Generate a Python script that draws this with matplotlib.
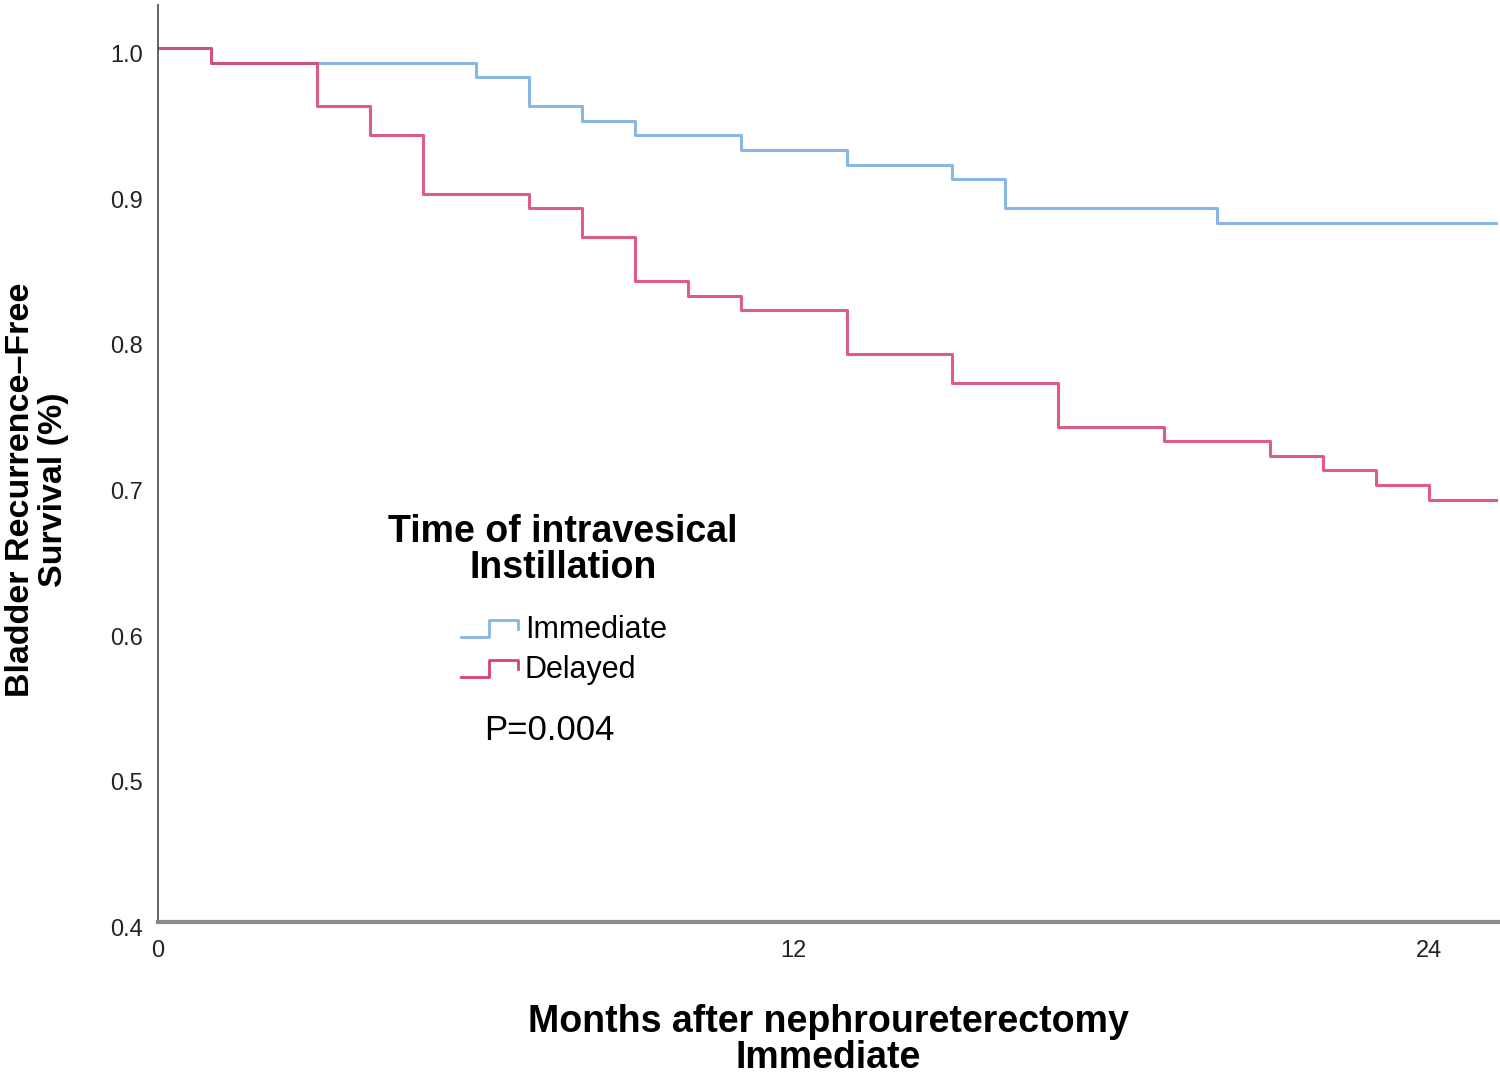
import matplotlib
matplotlib.use("Agg")
import matplotlib.pyplot as plt
import matplotlib.transforms as mtrans
from matplotlib.legend_handler import HandlerBase
from matplotlib.lines import Line2D

plt.rcParams['font.family'] = ['Liberation Sans', 'DejaVu Sans']

# Kaplan-Meier step data (months, survival)
imm_t = [0, 1, 6, 7, 8, 9, 11, 13, 15, 16, 20, 25.3]
imm_s = [1.00, 0.99, 0.98, 0.96, 0.95, 0.94, 0.93, 0.92, 0.91, 0.89, 0.88, 0.88]
del_t = [0, 1, 3, 4, 5, 7, 8, 9, 10, 11, 13, 15, 17, 19, 21, 22, 23, 24, 25.3]
del_s = [1.00, 0.99, 0.96, 0.94, 0.90, 0.89, 0.87, 0.84, 0.83, 0.82, 0.79,
         0.77, 0.74, 0.73, 0.72, 0.71, 0.70, 0.69, 0.69]
xticks = [0, 12, 24]
yticks = [0.4, 0.5, 0.6, 0.7, 0.8, 0.9, 1.0]

blue = '#8ab6e6'
red = '#d8426b'


class StepHandler(HandlerBase):
    def create_artists(self, legend, orig_handle, xdescent, ydescent,
                       width, height, fontsize, trans):
        fx = [0, 0.5, 0.5, 1.0, 1.0]
        fy = [0.05, 0.05, 0.85, 0.85, 0.45]
        xs = [f * width - xdescent for f in fx]
        ys = [f * height - ydescent for f in fy]
        ln = Line2D(xs, ys, color=orig_handle.get_color(), lw=2, transform=trans)
        return [ln]


fig = plt.figure(figsize=(15, 10.77), dpi=100)
ax = fig.add_axes([158 / 1500, 1 - 922 / 1077, (1498 - 158) / 1500, (922 - 5) / 1077])

l1, = ax.step(imm_t, imm_s, where='post', color=blue, lw=2.2)
l2, = ax.step(del_t, del_s, where='post', color=red, lw=2.2, alpha=0.85)

ax.set_xlim(0, 25.3)
ax.set_ylim(0.4, 1.0295)
ax.set_xticks(xticks)
ax.set_yticks(yticks)
ax.set_yticklabels([f'{v:.1f}' for v in yticks])
ax.tick_params(length=0, labelsize=17, colors='#222222')
ax.tick_params(axis='x', pad=13)
ax.tick_params(axis='y', pad=11)
# SPSS puts the y labels a little below their gridline
shift = mtrans.ScaledTranslation(0, -4 / 72, fig.dpi_scale_trans)
for lab in ax.get_yticklabels():
    lab.set_transform(lab.get_transform() + shift)
for s in ['top', 'right']:
    ax.spines[s].set_visible(False)
ax.spines['left'].set_color('#555555')
ax.spines['left'].set_linewidth(1.3)
ax.spines['bottom'].set_color('#8a8a8a')
ax.spines['bottom'].set_linewidth(3)

fig.text(828 / 1500, 1 - 1040 / 1077, 'Months after nephroureterectomy\nImmediate',
         ha='center', va='center', fontsize=27, fontweight='bold', linespacing=0.97)
fig.text(37 / 1500, 1 - 490 / 1077, 'Bladder Recurrence\u2013Free\nSurvival (%)',
         ha='center', va='center', rotation=90, fontsize=24.5, fontweight='bold',
         linespacing=1.05)

fig.text(563 / 1500, 1 - 550 / 1077, 'Time of intravesical\nInstillation',
         ha='center', va='center', fontsize=27, fontweight='bold',
         linespacing=1.0, multialignment='center')

leg = fig.legend([l1, l2], ['Immediate', 'Delayed'],
                 handler_map={Line2D: StepHandler()},
                 fontsize=22, frameon=False, loc='upper center',
                 bbox_to_anchor=(564 / 1500, 1 - 594 / 1077),
                 handlelength=1.85, handletextpad=0.23, labelspacing=0.33,
                 borderpad=0.2)

fig.text(549 / 1500, 1 - 731 / 1077, 'P=0.004', ha='center', va='center', fontsize=25)

fig.savefig('out.png', dpi=100)
